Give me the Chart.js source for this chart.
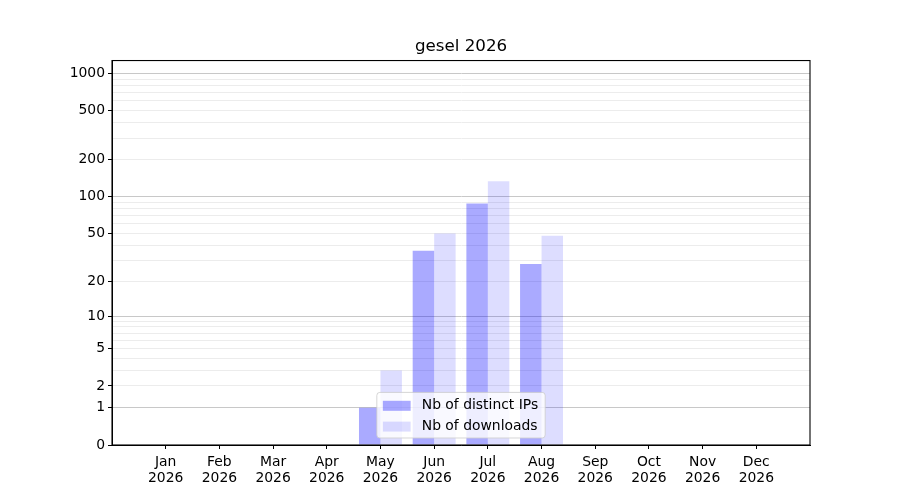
<!DOCTYPE html>
<html>
<head>
<meta charset="utf-8">
<script src="https://cdn.jsdelivr.net/npm/chart.js@4/dist/chart.umd.min.js"></script>
<style>
  html, body { margin: 0; padding: 0; background: #fff; }
  #wrap { width: 900px; height: 500px; }
</style>
</head>
<body>
<div id="wrap"><canvas id="c" width="900" height="500"></canvas></div>
<script>
// ---- data ----
const titleText = 'gesel 2026';
const months = ['Jan','Feb','Mar','Apr','May','Jun','Jul','Aug','Sep','Oct','Nov','Dec'];
const yearLabel = '2026';
const distinctIPs = [0, 0, 0, 0, 1, 36, 88, 28, 0, 0, 0, 0];
const downloads   = [0, 0, 0, 0, 3, 50, 134, 48, 0, 0, 0, 0];
const seriesNames = ['Nb of distinct IPs', 'Nb of downloads'];
const yTickLabels = [0, 1, 2, 5, 10, 20, 50, 100, 200, 500, 1000];
const yMajorGrid  = [1, 10, 100, 1000];
const yMinorGrid  = [2,3,4,5,6,7,8,9,20,30,40,50,60,70,80,90,200,300,400,500,600,700,800,900];
const yMin = 0, yMax = 1270;

// ---- custom log(1+x) scale ----
class Log1pScale extends Chart.LinearScale {
  buildTicks() {
    const vals = Array.from(new Set([...yTickLabels, ...yMajorGrid, ...yMinorGrid])).sort((a,b)=>a-b);
    return vals.filter(v => v >= this.min && v <= this.max).map(v => ({ value: v }));
  }
  _t(v) { return Math.log10(v + 1); }
  getPixelForValue(value) {
    const a = this._t(this.min), b = this._t(this.max);
    return this.getPixelForDecimal((this._t(value) - a) / (b - a));
  }
  getValueForPixel(pixel) {
    const a = this._t(this.min), b = this._t(this.max);
    const d = this.getDecimalForPixel(pixel);
    return Math.pow(10, a + d * (b - a)) - 1;
  }
}
Log1pScale.id = 'log1p';
Log1pScale.defaults = { ticks: { callback: Chart.Ticks.formatters.numeric } };
Chart.register(Log1pScale);

const FONT = 'DejaVu Sans';
const isLabel = v => yTickLabels.includes(v);

// frame + legend plugin
const framePlugin = {
  id: 'frame',
  afterDatasetsDraw(chart) {
    const { ctx, chartArea: ca } = chart;
    ctx.save();
    ctx.strokeStyle = '#000';
    ctx.lineWidth = 1.1;
    ctx.strokeRect(ca.left, ca.top, ca.right - ca.left, ca.bottom - ca.top);
    ctx.restore();
  },
  afterDraw(chart) {
    const { ctx, chartArea: ca } = chart;
    const ds = chart.data.datasets;
    const fs = 13.9;
    ctx.save();
    ctx.font = fs + 'px "' + FONT + '"';
    let tw = 0;
    ds.forEach(d => tw = Math.max(tw, ctx.measureText(d.label).width));
    const pad = 6, hl = 27.8, hgap = 11.1, rowH = 20.8;
    const w = pad + hl + hgap + tw + pad + 1;
    const h = ds.length * rowH + 4;
    const cx = (ca.left + ca.right) / 2;
    const x0 = cx - w / 2, y0 = ca.bottom - 7 - h;
    ctx.beginPath();
    if (ctx.roundRect) ctx.roundRect(x0, y0, w, h, 3); else ctx.rect(x0, y0, w, h);
    ctx.fillStyle = 'rgba(255,255,255,0.8)';
    ctx.fill();
    ctx.strokeStyle = 'rgba(204,204,204,0.8)';
    ctx.lineWidth = 1;
    ctx.stroke();
    ds.forEach((d, i) => {
      const cy = y0 + 2 + rowH * i + rowH / 2 + 1;
      ctx.fillStyle = d.backgroundColor;
      ctx.fillRect(x0 + pad, cy - 5, hl, 10);
      ctx.fillStyle = '#000';
      ctx.textBaseline = 'middle';
      ctx.textAlign = 'left';
      ctx.fillText(d.label, x0 + pad + hl + hgap, cy);
    });
    ctx.restore();
  }
};

const ipData = distinctIPs.map((v, i) => ({ x: i, y: v }));
const dlData = downloads.map((v, i) => ({ x: i, y: v }));

new Chart(document.getElementById('c'), {
  type: 'bar',
  data: {
    datasets: [
      { label: seriesNames[0], data: ipData, backgroundColor: 'rgba(0,0,255,0.333)', borderWidth: 0 },
      { label: seriesNames[1], data: dlData, backgroundColor: 'rgba(0,0,255,0.133)', borderWidth: 0 }
    ]
  },
  options: {
    responsive: false,
    animation: false,
    devicePixelRatio: 1,
    layout: { padding: { left: 22, right: 0, top: 0, bottom: 0 } },
    datasets: { bar: { categoryPercentage: 0.8, barPercentage: 1.0, grouped: true } },
    plugins: {
      legend: { display: false },
      tooltip: { enabled: false },
      title: {
        display: true,
        text: titleText,
        color: '#000',
        font: { family: FONT, size: 16.7, weight: 'normal', lineHeight: 1.2 },
        padding: { top: 37, bottom: 3.5 }
      }
    },
    scales: {
      x: {
        type: 'linear',
        min: -1, max: 12,
        offset: false,
        afterBuildTicks: s => { s.ticks = months.map((m, i) => ({ value: i })); },
        afterFit: s => { s.height = 55; },
        grid: { display: true, drawOnChartArea: false, offset: false, tickLength: 4, tickColor: '#000', tickWidth: 1 },
        border: { display: true, color: '#000', width: 1 },
        ticks: {
          autoSkip: false, maxRotation: 0, padding: 5, color: '#000',
          font: { family: FONT, size: 13.9, lineHeight: 1.15 },
          callback: v => [months[v], yearLabel]
        }
      },
      y: {
        type: 'log1p',
        min: yMin, max: yMax,
        afterFit: s => { s.width = 90; },
        grid: {
          drawOnChartArea: true,
          tickLength: 4,
          lineWidth: 1,
          color: c => {
            const v = c.tick ? c.tick.value : null;
            if (v === 0) return 'rgba(0,0,0,0)';
            if (yMajorGrid.includes(v)) return '#c8c8c8';
            return '#ececec';
          },
          tickColor: c => (c.tick && isLabel(c.tick.value)) ? '#000' : 'rgba(0,0,0,0)'
        },
        border: { display: true, color: '#000', width: 1 },
        ticks: {
          autoSkip: false, padding: 3, color: '#000',
          font: { family: FONT, size: 13.9 },
          callback: v => isLabel(v) ? String(v) : ''
        }
      },
      yRight: {
        type: 'linear',
        position: 'right',
        display: true,
        afterFit: s => { s.width = 90; },
        grid: { display: false },
        border: { display: false },
        ticks: { display: false }
      }
    }
  },
  plugins: [framePlugin]
});
</script>
</body>
</html>
